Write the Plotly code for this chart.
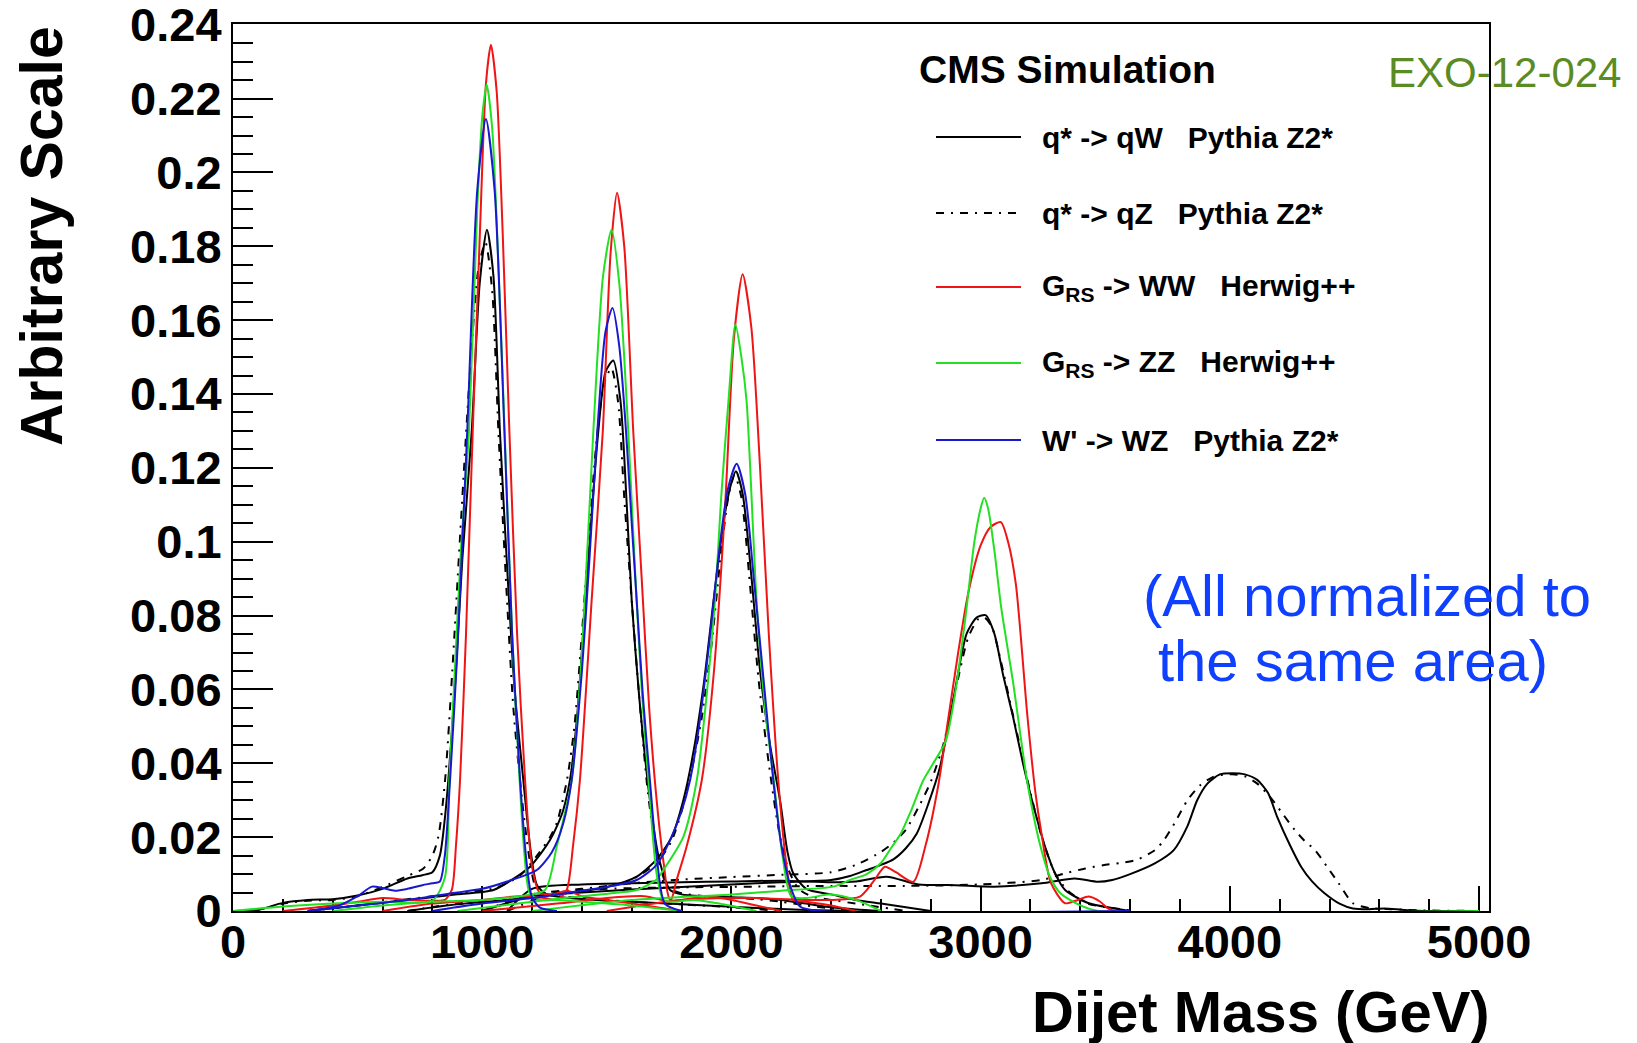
import plotly.graph_objects as go

# ---------------------------------------------------------------------------
# Dijet mass shapes (arbitrary scale). One (mass, value) list pair per signal
# mass point.
# ---------------------------------------------------------------------------

# q* -> qW, Pythia Z2*
qW_1000_m = [0, 100, 200, 300, 400, 500, 600, 700, 760, 800, 830, 850, 864, 890, 920, 958, 990, 1019, 1045, 1071, 1100, 1130, 1165, 1195, 1220, 1260, 1350, 1500, 1700, 1900, 2100, 2300, 2500]
qW_1000_v = [0, 0.0003, 0.0022, 0.0030, 0.0032, 0.0042, 0.0060, 0.0088, 0.0097, 0.0105, 0.0150, 0.0250, 0.0354, 0.060, 0.095, 0.130, 0.170, 0.1845, 0.172, 0.130, 0.093, 0.060, 0.0354, 0.016, 0.0070, 0.0045, 0.0035, 0.0028, 0.0022, 0.0015, 0.0008, 0.0003, 0]
qW_1500_m = [300, 500, 700, 900, 1045, 1120, 1192, 1240, 1272, 1300, 1325, 1352, 1380, 1410, 1440, 1466, 1495, 1526, 1555, 1580, 1600, 1630, 1673, 1710, 1754, 1800, 1900, 2000, 2100, 2200, 2300, 2400, 2500, 2600]
qW_1500_v = [0, 0.0015, 0.0030, 0.0045, 0.0057, 0.0085, 0.0120, 0.0160, 0.0192, 0.0230, 0.0273, 0.0354, 0.052, 0.080, 0.108, 0.130, 0.146, 0.1491, 0.138, 0.110, 0.084, 0.058, 0.030, 0.014, 0.0057, 0.0045, 0.0040, 0.0037, 0.0035, 0.0030, 0.0020, 0.0010, 0.0004, 0]
qW_2000_m = [700, 900, 1100, 1300, 1500, 1620, 1700, 1760, 1807, 1850, 1890, 1930, 1970, 2000, 2018, 2045, 2081, 2115, 2155, 2195, 2225, 2248, 2300, 2400, 2500, 2600, 2800]
qW_2000_v = [0, 0.0018, 0.0030, 0.0045, 0.0065, 0.0093, 0.0140, 0.0200, 0.0300, 0.0440, 0.062, 0.085, 0.106, 0.116, 0.1191, 0.113, 0.090, 0.065, 0.045, 0.0300, 0.016, 0.0102, 0.0060, 0.0045, 0.0030, 0.0020, 0]
qW_3000_m = [1000, 1200, 1400, 1600, 1800, 2000, 2200, 2400, 2476, 2543, 2600, 2650, 2700, 2744, 2790, 2837, 2890, 2944, 2985, 3020, 3055, 3090, 3130, 3170, 3206, 3263, 3300, 3339, 3434, 3528, 3600]
qW_3000_v = [0, 0.0040, 0.0050, 0.0058, 0.0065, 0.0072, 0.0078, 0.0084, 0.0095, 0.0111, 0.0125, 0.0140, 0.0170, 0.0210, 0.0290, 0.0390, 0.0571, 0.0751, 0.0795, 0.0801, 0.0751, 0.064, 0.0526, 0.040, 0.030, 0.0165, 0.010, 0.0057, 0.0021, 0.0008, 0]
qW_4000_m = [1100, 1200, 1400, 1600, 1800, 2000, 2200, 2400, 2500, 2623, 2750, 2900, 3054, 3244, 3377, 3471, 3528, 3600, 3699, 3775, 3830, 3869, 3910, 3960, 4010, 4060, 4110, 4153, 4190, 4240, 4286, 4330, 4380, 4440, 4494, 4560, 4620, 4700, 4800, 5000]
qW_4000_v = [0, 0.0060, 0.0072, 0.0075, 0.0078, 0.0080, 0.0082, 0.0078, 0.0080, 0.0093, 0.0072, 0.0070, 0.0066, 0.0075, 0.0088, 0.0079, 0.0084, 0.0100, 0.0129, 0.0165, 0.0230, 0.0300, 0.0345, 0.0370, 0.0373, 0.0370, 0.0355, 0.0320, 0.0255, 0.0180, 0.0120, 0.0080, 0.0048, 0.0020, 0.0007, 0.0005, 0.0007, 0.0003, 0, 0]

# q* -> qZ, Pythia Z2*
qZ_1000_m = [0, 100, 200, 300, 400, 500, 600, 700, 764, 800, 824, 851, 880, 910, 950, 985, 1013, 1040, 1065, 1095, 1125, 1160, 1190, 1215, 1260, 1400, 1600, 1800, 2000, 2200]
qZ_1000_v = [0, 0.0003, 0.0020, 0.0028, 0.0030, 0.0040, 0.0065, 0.0095, 0.0115, 0.0150, 0.0201, 0.0354, 0.065, 0.100, 0.145, 0.174, 0.181, 0.168, 0.130, 0.090, 0.055, 0.030, 0.014, 0.0065, 0.0045, 0.0035, 0.0025, 0.0018, 0.0010, 0]
qZ_1500_m = [300, 500, 700, 900, 1050, 1150, 1220, 1272, 1300, 1340, 1370, 1400, 1430, 1460, 1490, 1518, 1545, 1570, 1600, 1630, 1665, 1700, 1745, 1800, 1900, 2000, 2100, 2200, 2300, 2400, 2500]
qZ_1500_v = [0, 0.0015, 0.0032, 0.0048, 0.0062, 0.0095, 0.0150, 0.0200, 0.0240, 0.0354, 0.050, 0.075, 0.103, 0.128, 0.143, 0.147, 0.138, 0.112, 0.084, 0.058, 0.032, 0.016, 0.0065, 0.0048, 0.0040, 0.0036, 0.0032, 0.0025, 0.0015, 0.0007, 0]
qZ_2000_m = [700, 900, 1100, 1300, 1500, 1600, 1700, 1760, 1800, 1840, 1880, 1920, 1960, 1990, 2013, 2040, 2075, 2110, 2150, 2190, 2230, 2270, 2320, 2400, 2500, 2700]
qZ_2000_v = [0, 0.0020, 0.0030, 0.0045, 0.0065, 0.0085, 0.0130, 0.0190, 0.0270, 0.0380, 0.052, 0.072, 0.098, 0.113, 0.118, 0.112, 0.088, 0.062, 0.040, 0.022, 0.011, 0.0060, 0.0040, 0.0030, 0.0020, 0]
qZ_3000_m = [1000, 1200, 1400, 1600, 1800, 2000, 2200, 2400, 2500, 2600, 2650, 2700, 2750, 2800, 2850, 2900, 2950, 2990, 3015, 3045, 3080, 3120, 3160, 3200, 3250, 3300, 3350, 3430, 3530, 3620]
qZ_3000_v = [0, 0.0045, 0.0060, 0.0075, 0.0085, 0.0092, 0.0098, 0.0105, 0.0125, 0.0160, 0.0185, 0.0220, 0.0280, 0.0350, 0.0450, 0.0600, 0.0740, 0.0790, 0.0795, 0.0770, 0.0680, 0.0560, 0.0440, 0.0320, 0.0190, 0.0100, 0.0055, 0.0020, 0.0008, 0]
qZ_4000_m = [1100, 1300, 1500, 1800, 2100, 2400, 2700, 3000, 3244, 3339, 3420, 3491, 3560, 3624, 3700, 3736, 3780, 3830, 3880, 3930, 3980, 4010, 4060, 4110, 4160, 4210, 4260, 4300, 4342, 4390, 4437, 4494, 4560, 4650, 4750, 5000]
qZ_4000_v = [0, 0.0050, 0.0060, 0.0064, 0.0066, 0.0068, 0.0068, 0.0072, 0.0084, 0.0102, 0.0115, 0.0124, 0.0130, 0.0138, 0.0165, 0.0192, 0.0240, 0.0300, 0.0340, 0.0362, 0.0370, 0.0370, 0.0365, 0.0345, 0.0310, 0.0265, 0.0220, 0.0190, 0.0165, 0.0120, 0.0075, 0.0021, 0.0008, 0.0005, 0.0002, 0]

# G_RS -> WW, Herwig++
WW_1000_m = [200, 400, 500, 600, 700, 800, 850, 878, 895, 911, 935, 962, 991, 1015, 1035, 1058, 1082, 1109, 1140, 1172, 1200, 1230, 1280, 1340, 1400, 1500, 1600, 1800]
WW_1000_v = [0, 0.0015, 0.0025, 0.0035, 0.0030, 0.0028, 0.0030, 0.0057, 0.018, 0.0354, 0.075, 0.130, 0.184, 0.224, 0.2346, 0.222, 0.184, 0.130, 0.075, 0.0354, 0.012, 0.0050, 0.0045, 0.0055, 0.0040, 0.0030, 0.0020, 0]
WW_1500_m = [600, 800, 1000, 1150, 1250, 1300, 1339, 1365, 1392, 1440, 1484, 1515, 1541, 1570, 1606, 1640, 1670, 1700, 1730, 1754, 1800, 1900, 2000, 2100, 2200]
WW_1500_v = [0, 0.0020, 0.0030, 0.0040, 0.0035, 0.0030, 0.0057, 0.018, 0.0354, 0.085, 0.130, 0.178, 0.1945, 0.180, 0.130, 0.090, 0.055, 0.030, 0.012, 0.0030, 0.0030, 0.0040, 0.0030, 0.0015, 0]
WW_2000_m = [1000, 1300, 1500, 1650, 1720, 1754, 1780, 1820, 1881, 1930, 1975, 2010, 2045, 2080, 2115, 2150, 2188, 2220, 2248, 2300, 2400, 2500]
WW_2000_v = [0, 0.0020, 0.0035, 0.0040, 0.0030, 0.0025, 0.0084, 0.0174, 0.0354, 0.065, 0.110, 0.155, 0.1724, 0.158, 0.120, 0.075, 0.0354, 0.013, 0.003, 0.0025, 0.0015, 0]
WW_3000_m = [1500, 1800, 2100, 2300, 2409, 2516, 2570, 2616, 2660, 2730, 2780, 2830, 2870, 2910, 2950, 3000, 3040, 3081, 3110, 3141, 3188, 3220, 3244, 3282, 3339, 3390, 3434, 3480, 3509, 3540]
WW_3000_v = [0, 0.0030, 0.0035, 0.0030, 0.0030, 0.0039, 0.0080, 0.0120, 0.0105, 0.0079, 0.018, 0.034, 0.052, 0.070, 0.086, 0.099, 0.104, 0.1053, 0.100, 0.0887, 0.0526, 0.032, 0.0211, 0.0076, 0.0021, 0.0030, 0.0039, 0.0025, 0.0008, 0]

# G_RS -> ZZ, Herwig++
ZZ_1000_m = [0, 200, 400, 600, 800, 850, 868, 890, 915, 947, 980, 1000, 1018, 1040, 1065, 1090, 1120, 1150, 1170, 1190, 1230, 1300, 1400, 1600, 1800]
ZZ_1000_v = [0, 0.0012, 0.0020, 0.0025, 0.0028, 0.0090, 0.0354, 0.065, 0.098, 0.130, 0.190, 0.215, 0.2238, 0.212, 0.175, 0.130, 0.075, 0.0354, 0.015, 0.0050, 0.0030, 0.0030, 0.0025, 0.0015, 0]
ZZ_1500_m = [400, 600, 800, 1000, 1150, 1252, 1299, 1359, 1400, 1446, 1485, 1519, 1550, 1586, 1615, 1640, 1667, 1700, 1727, 1760, 1850, 1950, 2100]
ZZ_1500_v = [0, 0.0015, 0.0025, 0.0030, 0.0040, 0.0057, 0.0174, 0.0354, 0.070, 0.130, 0.172, 0.1845, 0.170, 0.130, 0.090, 0.060, 0.0354, 0.010, 0.003, 0.0025, 0.0030, 0.0020, 0]
ZZ_2000_m = [900, 1200, 1400, 1550, 1620, 1700, 1727, 1807, 1861, 1900, 1934, 1960, 1988, 2016, 2040, 2061, 2101, 2135, 2170, 2205, 2240, 2300, 2400, 2500, 2600]
ZZ_2000_v = [0, 0.0025, 0.0040, 0.0050, 0.0057, 0.0085, 0.0111, 0.0201, 0.0354, 0.058, 0.084, 0.113, 0.138, 0.1588, 0.150, 0.138, 0.084, 0.055, 0.0354, 0.015, 0.0040, 0.0035, 0.0045, 0.0030, 0]
ZZ_3000_m = [1200, 1600, 2000, 2200, 2409, 2476, 2543, 2600, 2640, 2680, 2720, 2770, 2810, 2860, 2900, 2940, 2975, 3000, 3014, 3030, 3055, 3083, 3131, 3188, 3244, 3280, 3320, 3400, 3471, 5000]
ZZ_3000_v = [0, 0.0030, 0.0045, 0.0055, 0.0066, 0.0084, 0.0100, 0.0130, 0.0170, 0.0210, 0.0270, 0.0354, 0.0400, 0.0460, 0.0600, 0.0800, 0.1000, 0.1090, 0.1119, 0.109, 0.0977, 0.082, 0.0616, 0.0346, 0.0165, 0.0090, 0.0048, 0.0015, 0, 0]

# W' -> WZ, Pythia Z2*
WZ_1000_m = [300, 430, 500, 558, 600, 650, 700, 760, 800, 830, 850, 871, 900, 940, 980, 1015, 1050, 1089, 1120, 1152, 1180, 1199, 1230, 1300]
WZ_1000_v = [0, 0.0016, 0.0040, 0.0066, 0.0062, 0.0055, 0.0060, 0.0070, 0.0075, 0.0080, 0.0150, 0.0354, 0.070, 0.130, 0.195, 0.2145, 0.195, 0.130, 0.075, 0.0354, 0.012, 0.0039, 0.0010, 0]
WZ_1500_m = [300, 500, 700, 900, 1000, 1100, 1219, 1280, 1325, 1359, 1400, 1430, 1462, 1495, 1523, 1550, 1577, 1600, 1620, 1645, 1673, 1700, 1733, 1800]
WZ_1500_v = [0, 0.0015, 0.0030, 0.0050, 0.0060, 0.0080, 0.0111, 0.0160, 0.0237, 0.0354, 0.065, 0.095, 0.130, 0.157, 0.1633, 0.153, 0.130, 0.105, 0.084, 0.058, 0.0354, 0.015, 0.002, 0]
WZ_2000_m = [800, 1000, 1200, 1400, 1500, 1620, 1700, 1754, 1800, 1834, 1870, 1910, 1950, 1985, 2021, 2055, 2090, 2130, 2168, 2200, 2240, 2275, 2350, 3600]
WZ_2000_v = [0, 0.0020, 0.0035, 0.0055, 0.0065, 0.0084, 0.0125, 0.0192, 0.0270, 0.0354, 0.050, 0.072, 0.097, 0.114, 0.1211, 0.113, 0.090, 0.062, 0.0354, 0.018, 0.006, 0.0012, 0, 0]

SERIES = [
    ("qW", "#000000", "solid", [(qW_1000_m, qW_1000_v), (qW_1500_m, qW_1500_v), (qW_2000_m, qW_2000_v), (qW_3000_m, qW_3000_v), (qW_4000_m, qW_4000_v)]),
    ("qZ", "#000000", "8px,7px,2px,7px", [(qZ_1000_m, qZ_1000_v), (qZ_1500_m, qZ_1500_v), (qZ_2000_m, qZ_2000_v), (qZ_3000_m, qZ_3000_v), (qZ_4000_m, qZ_4000_v)]),
    ("WW", "#f01414", "solid", [(WW_1000_m, WW_1000_v), (WW_1500_m, WW_1500_v), (WW_2000_m, WW_2000_v), (WW_3000_m, WW_3000_v)]),
    ("ZZ", "#22e022", "solid", [(ZZ_1000_m, ZZ_1000_v), (ZZ_1500_m, ZZ_1500_v), (ZZ_2000_m, ZZ_2000_v), (ZZ_3000_m, ZZ_3000_v)]),
    ("WZ", "#1818d0", "solid", [(WZ_1000_m, WZ_1000_v), (WZ_1500_m, WZ_1500_v), (WZ_2000_m, WZ_2000_v)]),
]

LEGEND_TEXT = [
    "q* -> qW\u00a0\u00a0\u00a0Pythia Z2*",
    "q* -> qZ\u00a0\u00a0\u00a0Pythia Z2*",
    "G<sub>RS</sub> -> WW\u00a0\u00a0\u00a0Herwig++",
    "G<sub>RS</sub> -> ZZ\u00a0\u00a0\u00a0Herwig++",
    "W' -> WZ\u00a0\u00a0\u00a0Pythia Z2*",
]

X_TICKS = [0, 1000, 2000, 3000, 4000, 5000]
Y_TICKS = [0, 0.02, 0.04, 0.06, 0.08, 0.1, 0.12, 0.14, 0.16, 0.18, 0.2, 0.22, 0.24]

# Canvas / frame geometry (pixels)
W, H = 1637, 1043
L, R, T, B = 233, 1489, 24, 911
FONT = "Liberation Sans, Arial, Helvetica, sans-serif"


def px(x):
    return (x - L) / (R - L)


def py(y):
    return (B - y) / (B - T)


fig = go.Figure()
for name, color, dash, curves in SERIES:
    for m, v in curves:
        fig.add_trace(go.Scatter(
            x=m, y=v, mode="lines", name=name, showlegend=False,
            line=dict(color=color, width=2, dash=dash, shape="spline", smoothing=0.7),
            hoverinfo="skip",
        ))

axis_common = dict(
    showline=True, linecolor="black", linewidth=2, mirror=True,
    ticks="inside", tickcolor="black", tickwidth=2,
    showgrid=False, zeroline=False, layer="below traces",
    ticklabeloverflow="allow", automargin=False,
    tickfont=dict(family=FONT, size=47, color="black", weight="bold"),
)

fig.update_xaxes(
    range=[0, 5040], tickvals=X_TICKS, tickformat="d", ticklen=25,
    minor=dict(dtick=200, ticklen=12, tickwidth=2, tickcolor="black", ticks="inside"),
    ticklabelstandoff=-11, **axis_common,
)
fig.update_yaxes(
    range=[0, 0.2402], tickvals=Y_TICKS, ticktext=[f"{t:g}" for t in Y_TICKS], ticklen=40,
    minor=dict(dtick=0.005, tick0=0, ticklen=20, tickwidth=2, tickcolor="black", ticks="inside"),
    ticklabelstandoff=0, **axis_common,
)

annotations = [
    dict(text="Arbitrary Scale", x=px(42), y=py(236), textangle=-90,
         font=dict(family=FONT, size=59, color="black", weight="bold")),
    dict(text="Dijet Mass (GeV)", x=px(1492), y=py(1012), xanchor="right",
         font=dict(family=FONT, size=58, color="black", weight="bold")),
    dict(text="CMS Simulation", x=px(917), y=py(70), xanchor="left",
         font=dict(family=FONT, size=39, color="black", weight="bold")),
    dict(text="EXO-12-024", x=px(1386), y=py(72), xanchor="left",
         font=dict(family=FONT, size=42, color="#5b8c24")),
    dict(text="(All normalized to", x=px(1141), y=py(595), xanchor="left",
         font=dict(family=FONT, size=58, color="#1040ff")),
    dict(text="the same area)", x=px(1156), y=py(660), xanchor="left",
         font=dict(family=FONT, size=58, color="#1040ff")),
]

shapes = []
legend_rows = [137, 213, 287, 363, 440]
for (name, color, dash, _), label, yrow in zip(SERIES, LEGEND_TEXT, legend_rows):
    shapes.append(dict(type="line", xref="paper", yref="paper",
                       x0=px(936), x1=px(1021), y0=py(yrow), y1=py(yrow),
                       line=dict(color=color, width=2, dash=dash)))
    annotations.append(dict(text=label, x=px(1040), y=py(yrow), xanchor="left",
                            font=dict(family=FONT, size=30, color="black", weight="bold")))

for a in annotations:
    a.setdefault("xref", "paper")
    a.setdefault("yref", "paper")
    a.setdefault("showarrow", False)
    a.setdefault("yanchor", "middle")
    a.setdefault("xanchor", "center")

fig.update_layout(
    width=W, height=H,
    margin=dict(l=L, r=W - R, t=T, b=H - B, pad=0, autoexpand=False),
    paper_bgcolor="white", plot_bgcolor="white",
    showlegend=False,
    annotations=annotations, shapes=shapes,
)

fig.write_html("out.html")
